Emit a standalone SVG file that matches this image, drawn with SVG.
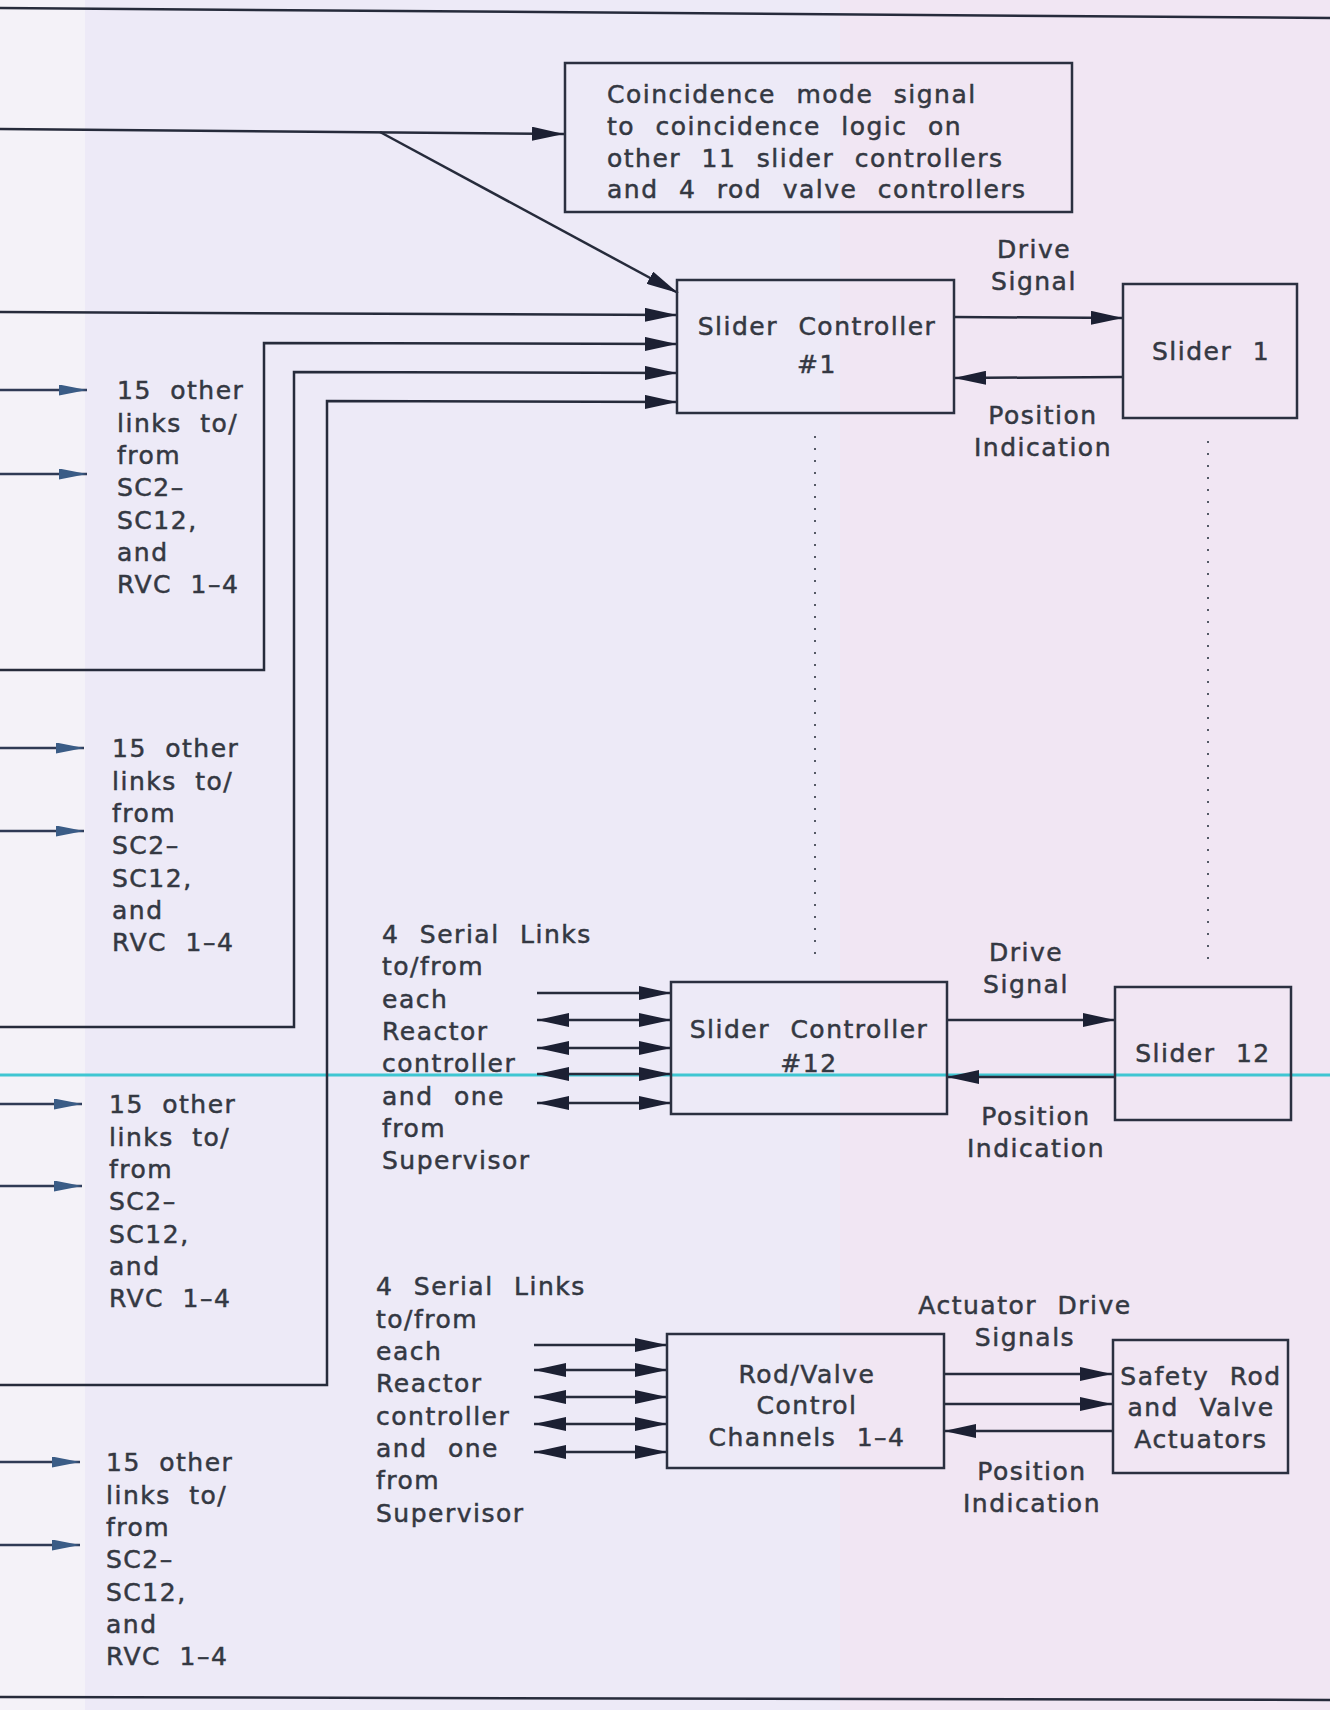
<svg xmlns="http://www.w3.org/2000/svg" width="1330" height="1710" viewBox="0 0 1330 1710">
<style>
.bg1{fill:#f4f2f8}.bg2{fill:#edeaf7}.bg3{fill:#f1e6f3}
.box{fill:none;stroke:#2b3040;stroke-width:2.5}
.ln{fill:none;stroke:#262b3b;stroke-width:2.5}
.ar{marker-end:url(#ah)}
.da{marker-start:url(#ah);marker-end:url(#ah)}
.sm{fill:none;stroke:#2f3a55;stroke-width:2.5;marker-end:url(#sa)}
.dot{fill:none;stroke:#555a66;stroke-width:2;stroke-dasharray:2 10}
.t{font-family:"DejaVu Sans",sans-serif;font-size:25px;letter-spacing:1.5px;word-spacing:11px;fill:#343842;stroke:#343842;stroke-width:0.5}
.m{text-anchor:middle}
</style>
<defs>
<marker id="ah" viewBox="0 0 32 14" refX="32" refY="7" markerWidth="32" markerHeight="14" markerUnits="userSpaceOnUse" orient="auto-start-reverse"><path d="M0,0 L32,7 L0,14 z" fill="#1c2033"/></marker>
<marker id="sa" viewBox="0 0 28 11" refX="28" refY="5.5" markerWidth="28" markerHeight="11" markerUnits="userSpaceOnUse" orient="auto"><path d="M0,0 L28,5.5 L0,11 z" fill="#3a5c86"/></marker>
</defs>
<rect class="bg2" x="0" y="0" width="1330" height="1710"/>
<rect class="bg1" x="0" y="0" width="85" height="1710"/>
<rect class="bg3" x="840" y="0" width="490" height="1710"/>
<line x1="0" y1="8" x2="1330" y2="18" class="ln"/>
<line x1="0" y1="1697" x2="1330" y2="1700" class="ln"/>
<line x1="0" y1="1075" x2="1330" y2="1075" stroke="#3fc6d2" stroke-width="3"/>

<g id="connectors">
<path class="ln ar" d="M0,129 L564,134"/>
<path class="ln ar" d="M380,132 L678,293"/>
<path class="ln ar" d="M0,312 L677,315"/>
<path class="ln ar" d="M0,670 L264,670 L264,343 L677,344"/>
<path class="ln ar" d="M0,1027 L294,1027 L294,372 L677,373"/>
<path class="ln ar" d="M0,1385 L327,1385 L327,401 L677,402"/>
<path class="ln ar" d="M954,317 L1123,318"/>
<path class="ln ar" d="M1123,377 L954,378"/>
<line class="dot" x1="815" y1="436" x2="815" y2="960"/>
<line class="dot" x1="1208" y1="441" x2="1208" y2="965"/>
<path class="sm" d="M0,390 L87,390"/>
<path class="sm" d="M0,474 L87,474"/>
<path class="sm" d="M0,748 L84,748"/>
<path class="sm" d="M0,831 L84,831"/>
<path class="sm" d="M0,1104 L82,1104"/>
<path class="sm" d="M0,1186 L82,1186"/>
<path class="sm" d="M0,1462 L80,1462"/>
<path class="sm" d="M0,1545 L80,1545"/>
<path class="ln ar" d="M537,993 L671,993"/>
<path class="ln da" d="M537,1020 L671,1020"/>
<path class="ln da" d="M537,1048 L671,1048"/>
<path class="ln da" d="M537,1074 L671,1074"/>
<path class="ln da" d="M537,1103 L671,1103"/>
<path class="ln ar" d="M947,1020 L1115,1020"/>
<path class="ln ar" d="M1115,1077 L947,1077"/>
<path class="ln ar" d="M534,1345 L667,1345"/>
<path class="ln da" d="M534,1370 L667,1370"/>
<path class="ln da" d="M534,1397 L667,1397"/>
<path class="ln da" d="M534,1424 L667,1424"/>
<path class="ln da" d="M534,1452 L667,1452"/>
<path class="ln ar" d="M944,1374 L1112,1374"/>
<path class="ln ar" d="M944,1404 L1112,1404"/>
<path class="ln ar" d="M1112,1431 L944,1431"/>
</g>

<g id="coincidence">
<rect class="box" x="565" y="63" width="507" height="149"/>
<text class="t"><tspan x="607" y="103">Coincidence mode signal</tspan><tspan x="607" y="135">to coincidence logic on</tspan><tspan x="607" y="167">other 11 slider controllers</tspan><tspan x="607" y="198">and 4 rod valve controllers</tspan></text>
</g>

<g id="sc1">
<rect class="box" x="677" y="280" width="277" height="133"/>
<text class="t m"><tspan x="817" y="335">Slider Controller</tspan><tspan x="817" y="373">#1</tspan></text>
</g>
<g id="slider1">
<rect class="box" x="1123" y="284" width="174" height="134"/>
<text class="t m" x="1211" y="360">Slider 1</text>
</g>
<g id="sc1-labels">
<text class="t m"><tspan x="1034" y="258">Drive</tspan><tspan x="1034" y="290">Signal</tspan></text>
<text class="t m"><tspan x="1043" y="424">Position</tspan><tspan x="1043" y="456">Indication</tspan></text>
</g>

<g id="links1">
<text class="t" style="word-spacing:9px"><tspan x="117" y="399">15 other</tspan><tspan x="117" y="432">links to/</tspan><tspan x="117" y="464">from</tspan><tspan x="117" y="496">SC2–</tspan><tspan x="117" y="529">SC12,</tspan><tspan x="117" y="561">and</tspan><tspan x="117" y="593">RVC 1–4</tspan></text>
</g>
<g id="links2">
<text class="t" style="word-spacing:9px"><tspan x="112" y="757">15 other</tspan><tspan x="112" y="790">links to/</tspan><tspan x="112" y="822">from</tspan><tspan x="112" y="854">SC2–</tspan><tspan x="112" y="887">SC12,</tspan><tspan x="112" y="919">and</tspan><tspan x="112" y="951">RVC 1–4</tspan></text>
</g>
<g id="links3">
<text class="t" style="word-spacing:9px"><tspan x="109" y="1113">15 other</tspan><tspan x="109" y="1146">links to/</tspan><tspan x="109" y="1178">from</tspan><tspan x="109" y="1210">SC2–</tspan><tspan x="109" y="1243">SC12,</tspan><tspan x="109" y="1275">and</tspan><tspan x="109" y="1307">RVC 1–4</tspan></text>
</g>
<g id="links4">
<text class="t" style="word-spacing:9px"><tspan x="106" y="1471">15 other</tspan><tspan x="106" y="1504">links to/</tspan><tspan x="106" y="1536">from</tspan><tspan x="106" y="1568">SC2–</tspan><tspan x="106" y="1601">SC12,</tspan><tspan x="106" y="1633">and</tspan><tspan x="106" y="1665">RVC 1–4</tspan></text>
</g>

<g id="serial12">
<text class="t"><tspan x="382" y="943">4 Serial Links</tspan><tspan x="382" y="975">to/from</tspan><tspan x="382" y="1008">each</tspan><tspan x="382" y="1040">Reactor</tspan><tspan x="382" y="1072">controller</tspan><tspan x="382" y="1105">and one</tspan><tspan x="382" y="1137">from</tspan><tspan x="382" y="1169">Supervisor</tspan></text>
</g>
<g id="sc12">
<rect class="box" x="671" y="982" width="276" height="132"/>
<text class="t m"><tspan x="809" y="1038">Slider Controller</tspan><tspan x="809" y="1072">#12</tspan></text>
</g>
<g id="slider12">
<rect class="box" x="1115" y="987" width="176" height="133"/>
<text class="t m" x="1203" y="1062">Slider 12</text>
</g>
<g id="sc12-labels">
<text class="t m"><tspan x="1026" y="961">Drive</tspan><tspan x="1026" y="993">Signal</tspan></text>
<text class="t m"><tspan x="1036" y="1125">Position</tspan><tspan x="1036" y="1157">Indication</tspan></text>
</g>

<g id="serialrvc">
<text class="t"><tspan x="376" y="1295">4 Serial Links</tspan><tspan x="376" y="1328">to/from</tspan><tspan x="376" y="1360">each</tspan><tspan x="376" y="1392">Reactor</tspan><tspan x="376" y="1425">controller</tspan><tspan x="376" y="1457">and one</tspan><tspan x="376" y="1489">from</tspan><tspan x="376" y="1522">Supervisor</tspan></text>
</g>
<g id="rvc">
<rect class="box" x="667" y="1334" width="277" height="134"/>
<text class="t m"><tspan x="807" y="1383">Rod/Valve</tspan><tspan x="807" y="1414">Control</tspan><tspan x="807" y="1446">Channels 1–4</tspan></text>
</g>
<g id="actuators">
<rect class="box" x="1113" y="1340" width="175" height="133"/>
<text class="t m"><tspan x="1201" y="1385">Safety Rod</tspan><tspan x="1201" y="1416">and Valve</tspan><tspan x="1201" y="1448">Actuators</tspan></text>
</g>
<g id="rvc-labels">
<text class="t m"><tspan x="1025" y="1314">Actuator Drive</tspan><tspan x="1025" y="1346">Signals</tspan></text>
<text class="t m"><tspan x="1032" y="1480">Position</tspan><tspan x="1032" y="1512">Indication</tspan></text>
</g>
</svg>
